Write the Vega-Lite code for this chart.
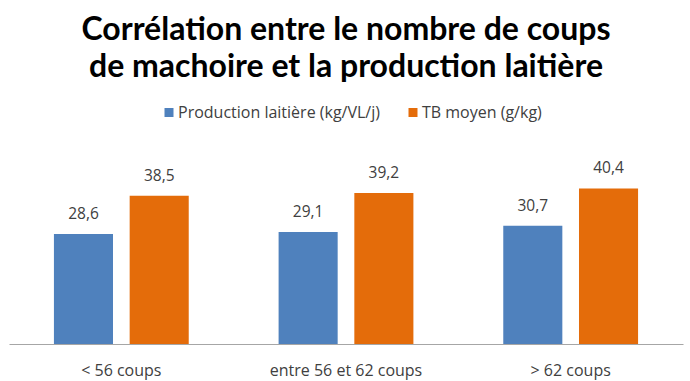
{
  "$schema": "https://vega.github.io/schema/vega-lite/v6.json",
  "width": 674,
  "height": 192.5,
  "autosize": {"type": "none"},
  "padding": {"left": 9, "top": 151.5, "right": 7, "bottom": 37},
  "background": "white",
  "title": {
    "text": ["Corrélation entre le nombre de coups", "de machoire et la production laitière"],
    "font": "Lato",
    "fontSize": 32,
    "fontWeight": "bold",
    "color": "#000000",
    "lineHeight": 37,
    "anchor": "middle",
    "offset": 21
  },
  "data": {
    "values": [
      {"cat": "< 56 coups", "serie": "Production laitière (kg/VL/j)", "val": 28.6},
      {"cat": "< 56 coups", "serie": "TB moyen (g/kg)", "val": 38.5},
      {"cat": "entre 56 et 62 coups", "serie": "Production laitière (kg/VL/j)", "val": 29.1},
      {"cat": "entre 56 et 62 coups", "serie": "TB moyen (g/kg)", "val": 39.2},
      {"cat": "> 62 coups", "serie": "Production laitière (kg/VL/j)", "val": 30.7},
      {"cat": "> 62 coups", "serie": "TB moyen (g/kg)", "val": 40.4}
    ]
  },
  "encoding": {
    "x": {
      "field": "cat", "type": "nominal", "sort": null,
      "scale": {"paddingInner": 0.4, "paddingOuter": 0.2},
      "axis": {"title": null, "labelAngle": 0, "ticks": false, "domainColor": "#A6A6A6", "domainWidth": 1.2,
               "labelFont": "Open Sans", "labelFontSize": 16, "labelColor": "#404040", "labelPadding": 18}
    },
    "xOffset": {"field": "serie", "type": "nominal", "scale": {"paddingInner": 0.22, "paddingOuter": 0}},
    "y": {"field": "val", "type": "quantitative", "scale": {"domain": [0, 50]}, "axis": null}
  },
  "layer": [
    {
      "mark": {"type": "bar"},
      "encoding": {
        "color": {
          "field": "serie", "type": "nominal",
          "scale": {"domain": ["Production laitière (kg/VL/j)", "TB moyen (g/kg)"], "range": ["#4F81BD", "#E46C0A"]},
          "legend": {
            "title": null, "orient": "none", "direction": "horizontal",
            "legendX": 152, "legendY": -47,
            "symbolType": "square", "symbolSize": 81, "symbolStrokeWidth": 0,
            "labelFont": "Open Sans", "labelFontSize": 16, "labelColor": "#404040", "labelLimit": 400,
            "labelOffset": 1, "columnPadding": 25
          }
        }
      }
    },
    {
      "mark": {"type": "text", "baseline": "bottom", "dy": -12, "font": "Open Sans", "fontSize": 15.5, "color": "#404040"},
      "encoding": {
        "text": {"field": "val", "type": "quantitative", "format": ".1f"}
      }
    }
  ],
  "config": {
    "view": {"stroke": null},
    "locale": {"number": {"decimal": ",", "thousands": " ", "grouping": [3], "currency": ["", " €"]}}
  }
}
